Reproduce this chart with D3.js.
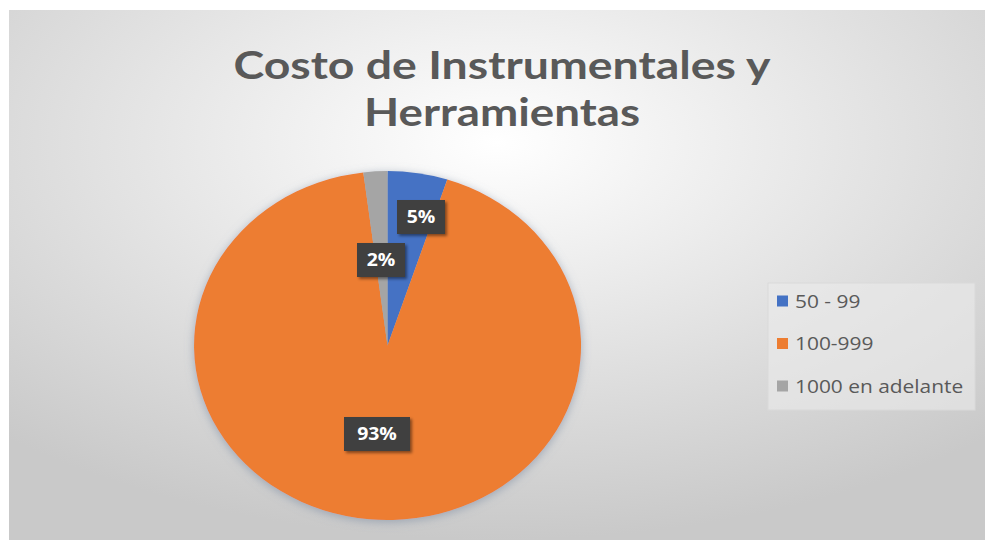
<!DOCTYPE html>
<html>
<head>
<meta charset="utf-8">
<script src="https://cdn.jsdelivr.net/npm/d3@7"></script>
<style>
  body { margin: 0; background: #fff; }
  svg { display: block; }
</style>
</head>
<body>
<div id="chart"></div>
<script>
// data
var categories = ['50 - 99', '100-999', '1000 en adelante'];
var values = [5, 93, 2];
var labels = ['5%', '93%', '2%'];
var colors = ['#4472C4', '#ED7D31', '#A5A5A5'];
var titleLines = ['Costo de Instrumentales y', 'Herramientas'];

var W = 985, H = 542;
var svg = d3.select('#chart').append('svg').attr('width', W).attr('height', H);
var defs = svg.append('defs');

var bg = defs.append('radialGradient').attr('id', 'bg')
    .attr('cx', '0.5').attr('cy', '0.25').attr('r', '0.75');
bg.append('stop').attr('offset', '0').attr('stop-color', '#ffffff');
bg.append('stop').attr('offset', '1').attr('stop-color', '#c9c9c9');

var sh = defs.append('filter').attr('id', 'pieShadow')
    .attr('x', '-20%').attr('y', '-20%').attr('width', '140%').attr('height', '140%');
sh.append('feDropShadow').attr('dx', 0).attr('dy', 2).attr('stdDeviation', 5)
    .attr('flood-color', '#7a8aa0').attr('flood-opacity', 0.6);

var lsh = defs.append('filter').attr('id', 'lblShadow')
    .attr('x', '-30%').attr('y', '-30%').attr('width', '160%').attr('height', '160%');
lsh.append('feDropShadow').attr('dx', 2).attr('dy', 2).attr('stdDeviation', 1.5)
    .attr('flood-color', '#000').attr('flood-opacity', 0.45);

svg.append('rect').attr('x', 9).attr('y', 10).attr('width', W - 9).attr('height', H - 12)
    .attr('fill', 'url(#bg)');

// title (picture is a bit stretched sideways, so fit each line to its width)
var titleWidths = [537, 276];
svg.append('g').selectAll('text').data(titleLines).enter().append('text')
    .attr('x', 502).attr('y', function(d, i) { return 79 + i * 47; })
    .attr('text-anchor', 'middle')
    .attr('textLength', function(d, i) { return titleWidths[i]; })
    .attr('lengthAdjust', 'spacingAndGlyphs')
    .attr('font-family', 'Lato, sans-serif').attr('font-weight', 'bold')
    .attr('font-size', 39).attr('fill', '#595959')
    .text(function(d) { return d; });

// pie (slightly squashed, like the picture)
var cx = 387.5, cy = 345.5, rx = 193.5, ry = 174.5;
var pie = d3.pie().sort(null).value(function(d) { return d; });
var arcs = pie(values);
var arc = d3.arc().innerRadius(0).outerRadius(1);

var pieG = svg.append('g').attr('filter', 'url(#pieShadow)')
    .attr('transform', 'translate(' + cx + ',' + cy + ')');
pieG.selectAll('path').data(arcs).enter().append('path')
    .attr('transform', 'scale(' + rx + ',' + ry + ')')
    .attr('d', arc)
    .attr('fill', function(d, i) { return colors[i]; });

// data labels
var lblPos = [[421, 217], [377, 434], [381, 260]];
var lbl = svg.append('g').selectAll('g').data(arcs).enter().append('g')
    .attr('transform', function(d, i) { return 'translate(' + lblPos[i][0] + ',' + lblPos[i][1] + ')'; });
lbl.append('rect')
    .attr('x', function(d, i) { return labels[i].length > 2 ? -33 : -24; })
    .attr('y', -17)
    .attr('width', function(d, i) { return labels[i].length > 2 ? 66 : 48; })
    .attr('height', 34)
    .attr('fill', '#404040').attr('filter', 'url(#lblShadow)');
lbl.append('text')
    .attr('text-anchor', 'middle').attr('dy', '0.36em')
    .attr('transform', 'scale(1.08,1)')
    .attr('font-family', 'Open Sans, sans-serif').attr('font-weight', 'bold')
    .attr('font-size', 18).attr('fill', '#ffffff')
    .text(function(d, i) { return labels[i]; });

// legend
var legend = svg.append('g');
legend.append('rect').attr('x', 768).attr('y', 283).attr('width', 207).attr('height', 127)
    .attr('fill', '#ebebeb').attr('fill-opacity', 0.6).attr('stroke', '#d9d9d9');
var li = legend.selectAll('g').data(categories).enter().append('g')
    .attr('transform', function(d, i) { return 'translate(777,' + (301 + i * 42.5) + ')'; });
li.append('rect').attr('x', 0).attr('y', -5.5).attr('width', 11).attr('height', 11)
    .attr('fill', function(d, i) { return colors[i]; });
li.append('text').attr('transform', 'translate(18,0) scale(1.1,1)').attr('dy', '0.35em')
    .attr('font-family', 'Open Sans, sans-serif').attr('font-size', 19)
    .attr('fill', '#595959')
    .text(function(d) { return d; });
</script>
</body>
</html>
